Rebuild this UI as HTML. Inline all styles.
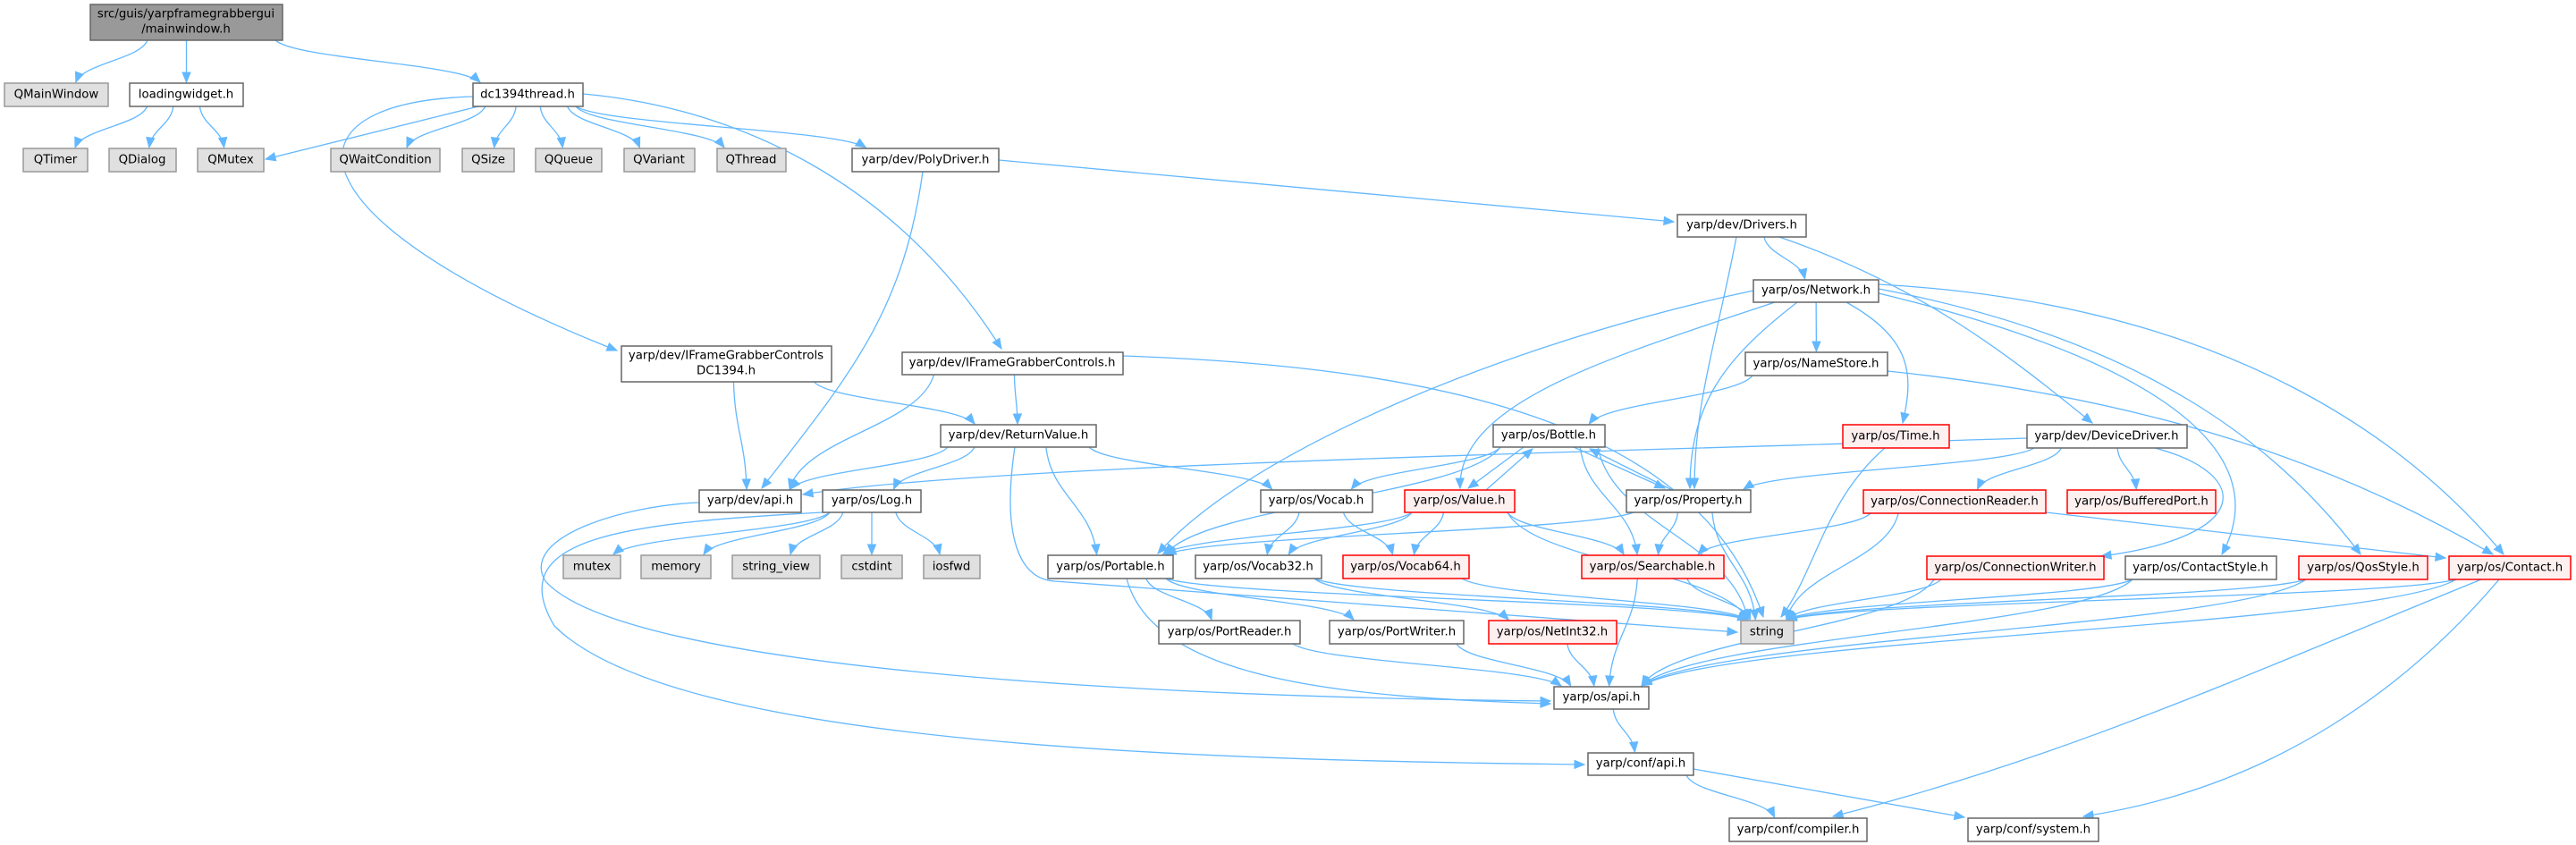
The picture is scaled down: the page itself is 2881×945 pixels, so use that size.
<!DOCTYPE html>
<html><head><meta charset="utf-8"><style>
html,body{margin:0;padding:0;background:#fff;}
svg{display:block;}
text{font-family:"DejaVu Sans","Liberation Sans",sans-serif;font-size:13.3px;fill:#000;text-anchor:middle;dominant-baseline:central;}
.w{fill:#fff;stroke:#666;stroke-width:1.5}
.g{fill:#e0e0e0;stroke:#999;stroke-width:1.5}
.r{fill:#fff0f0;stroke:#ff0000;stroke-width:1.5}
.m{fill:#999;stroke:#666;stroke-width:1.5}
.e{fill:none;stroke:#63b8ff;stroke-width:1.3}
.a{fill:#63b8ff;stroke:#63b8ff}
</style></head><body>
<svg id="s" width="2881" height="945" viewBox="0 0 2881 945" xmlns="http://www.w3.org/2000/svg">
<g id="edges"></g>
<g id="nodes">
<rect class="m" x="101" y="5" width="215" height="40"/><text x="208" y="16">src/guis/yarpframegrabbergui</text><text x="208" y="33">/mainwindow.h</text>
<rect class="g" x="5" y="93" width="116" height="26"/><text x="63" y="106">QMainWindow</text>
<rect class="w" x="145" y="93" width="127" height="26"/><text x="208" y="106">loadingwidget.h</text>
<rect class="w" x="529" y="93" width="123" height="26"/><text x="590" y="106">dc1394thread.h</text>
<rect class="g" x="26" y="166" width="72" height="26"/><text x="62" y="179">QTimer</text>
<rect class="g" x="122" y="166" width="75" height="26"/><text x="159" y="179">QDialog</text>
<rect class="g" x="221" y="166" width="74" height="26"/><text x="258" y="179">QMutex</text>
<rect class="g" x="370" y="166" width="122" height="26"/><text x="431" y="179">QWaitCondition</text>
<rect class="g" x="517" y="166" width="58" height="26"/><text x="546" y="179">QSize</text>
<rect class="g" x="599" y="166" width="74" height="26"/><text x="636" y="179">QQueue</text>
<rect class="g" x="698" y="166" width="79" height="26"/><text x="737" y="179">QVariant</text>
<rect class="g" x="802" y="166" width="77" height="26"/><text x="840" y="179">QThread</text>
<rect class="w" x="953" y="166" width="164" height="26"/><text x="1035" y="179">yarp/dev/PolyDriver.h</text>
<rect class="w" x="695" y="387" width="235" height="40"/><text x="812" y="398">yarp/dev/IFrameGrabberControls</text><text x="812" y="415">DC1394.h</text>
<rect class="w" x="1009" y="394" width="247" height="25"/><text x="1132" y="406">yarp/dev/IFrameGrabberControls.h</text>
<rect class="w" x="1876" y="240" width="144" height="25"/><text x="1948" y="252">yarp/dev/Drivers.h</text>
<rect class="w" x="1961" y="313" width="140" height="25"/><text x="2031" y="325">yarp/os/Network.h</text>
<rect class="w" x="1952" y="394" width="159" height="26"/><text x="2031" y="407">yarp/os/NameStore.h</text>
<rect class="w" x="1670" y="475" width="125" height="25"/><text x="1732" y="487">yarp/os/Bottle.h</text>
<rect class="r" x="2061" y="475" width="119" height="26"/><text x="2120" y="488">yarp/os/Time.h</text>
<rect class="w" x="2267" y="475" width="179" height="26"/><text x="2356" y="488">yarp/dev/DeviceDriver.h</text>
<rect class="w" x="1052" y="475" width="174" height="25"/><text x="1139" y="487">yarp/dev/ReturnValue.h</text>
<rect class="w" x="782" y="548" width="114" height="25"/><text x="839" y="560">yarp/dev/api.h</text>
<rect class="w" x="920" y="548" width="110" height="25"/><text x="975" y="560">yarp/os/Log.h</text>
<rect class="w" x="1410" y="548" width="125" height="25"/><text x="1472" y="560">yarp/os/Vocab.h</text>
<rect class="r" x="1571" y="548" width="123" height="25"/><text x="1632" y="560">yarp/os/Value.h</text>
<rect class="w" x="1819" y="548" width="139" height="25"/><text x="1888" y="560">yarp/os/Property.h</text>
<rect class="r" x="2084" y="548" width="204" height="26"/><text x="2186" y="561">yarp/os/ConnectionReader.h</text>
<rect class="r" x="2312" y="548" width="166" height="26"/><text x="2395" y="561">yarp/os/BufferedPort.h</text>
<rect class="g" x="630" y="621" width="64" height="26"/><text x="662" y="634">mutex</text>
<rect class="g" x="717" y="621" width="78" height="26"/><text x="756" y="634">memory</text>
<rect class="g" x="819" y="621" width="98" height="26"/><text x="868" y="634">string_view</text>
<rect class="g" x="941" y="621" width="68" height="26"/><text x="975" y="634">cstdint</text>
<rect class="g" x="1033" y="621" width="63" height="26"/><text x="1064" y="634">iosfwd</text>
<rect class="w" x="1172" y="621" width="140" height="26"/><text x="1242" y="634">yarp/os/Portable.h</text>
<rect class="w" x="1337" y="621" width="141" height="26"/><text x="1407" y="634">yarp/os/Vocab32.h</text>
<rect class="r" x="1502" y="621" width="141" height="26"/><text x="1572" y="634">yarp/os/Vocab64.h</text>
<rect class="r" x="1769" y="621" width="159" height="26"/><text x="1848" y="634">yarp/os/Searchable.h</text>
<rect class="r" x="2155" y="622" width="198" height="26"/><text x="2254" y="635">yarp/os/ConnectionWriter.h</text>
<rect class="w" x="2377" y="622" width="169" height="26"/><text x="2461" y="635">yarp/os/ContactStyle.h</text>
<rect class="r" x="2571" y="622" width="144" height="26"/><text x="2643" y="635">yarp/os/QosStyle.h</text>
<rect class="r" x="2739" y="622" width="136" height="26"/><text x="2807" y="635">yarp/os/Contact.h</text>
<rect class="w" x="1296" y="694" width="158" height="26"/><text x="1375" y="707">yarp/os/PortReader.h</text>
<rect class="w" x="1487" y="694" width="150" height="26"/><text x="1562" y="707">yarp/os/PortWriter.h</text>
<rect class="r" x="1665" y="694" width="143" height="26"/><text x="1736" y="707">yarp/os/NetInt32.h</text>
<rect class="g" x="1947" y="694" width="59" height="26"/><text x="1976" y="707">string</text>
<rect class="w" x="1738" y="768" width="106" height="25"/><text x="1791" y="780">yarp/os/api.h</text>
<rect class="w" x="1776" y="842" width="118" height="25"/><text x="1835" y="854">yarp/conf/api.h</text>
<rect class="w" x="1934" y="915" width="154" height="26"/><text x="2011" y="928">yarp/conf/compiler.h</text>
<rect class="w" x="2201" y="915" width="146" height="26"/><text x="2274" y="928">yarp/conf/system.h</text>
</g>
</svg>
<script>
var N={MW:[101,5,316,45],QMW:[5,93,121,119],LW:[145,93,272,119],DC:[529,93,652,119],QT:[26,166,98,192],QD:[122,166,197,192],QM:[221,166,295,192],QW:[370,166,492,192],QS:[517,166,575,192],QQ:[599,166,673,192],QV:[698,166,777,192],QTh:[802,166,879,192],PD:[953,166,1117,192],IFD:[695,387,930,427],IF:[1009,394,1256,419],DR:[1876,240,2020,265],NW:[1961,313,2101,338],NS:[1952,394,2111,420],BO:[1670,475,1795,500],TI:[2061,475,2180,501],DD:[2267,475,2446,501],RV:[1052,475,1226,500],DA:[782,548,896,573],LG:[920,548,1030,573],VO:[1410,548,1535,573],VA:[1571,548,1694,573],PR:[1819,548,1958,573],CR:[2084,548,2288,574],BP:[2312,548,2478,574],mu:[630,621,694,647],me:[717,621,795,647],sv:[819,621,917,647],ci:[941,621,1009,647],io:[1033,621,1096,647],PO:[1172,621,1312,647],V32:[1337,621,1478,647],V64:[1502,621,1643,647],SE:[1769,621,1928,647],CW:[2155,622,2353,648],CS:[2377,622,2546,648],QO:[2571,622,2715,648],CO:[2739,622,2875,648],PRD:[1296,694,1454,720],PW:[1487,694,1637,720],NI:[1665,694,1808,720],ST:[1947,694,2006,720],OA:[1738,768,1844,793],CA:[1776,842,1894,867],CC:[1934,915,2088,941],CSY:[2201,915,2347,941]};
var gen=[["MW","QMW"],["MW","LW"],["MW","DC"],["LW","QT"],["LW","QD"],["LW","QM"],["DC","QW"],["DC","QS"],["DC","QQ"],["DC","QV"],["DC","QTh"],["DC","PD"],["IFD","DA"],["IFD","RV"],["IF","DA"],["IF","RV"],["RV","DA"],["RV","LG"],["RV","VO"],["RV","PO"],["LG","mu"],["LG","me"],["LG","sv"],["LG","ci"],["LG","io"],["DR","NW"],["NW","NS"],["NS","BO"],["DD","PR"],["DD","CR"],["DD","BP"],["BO","PO"],["BO","VO"],["BO","SE"],["BO","ST"],["VA","PO"],["VA","V32"],["VA","V64"],["VA","SE"],["VA","ST"],["PR","PO"],["PR","SE"],["PR","ST"],["VO","V32"],["VO","V64"],["V32","ST"],["V32","NI"],["V64","ST"],["SE","ST"],["SE","OA"],["CR","SE"],["CR","ST"],["CW","ST"],["CW","OA"],["CS","ST"],["CS","OA"],["QO","ST"],["QO","OA"],["CO","ST"],["CO","OA"],["PO","PRD"],["PO","PW"],["PO","ST"],["PRD","OA"],["PW","OA"],["NI","OA"],["OA","CA"],["CA","CC"]];
var spec=["M529,108 C300,115 330,250 690,392","M652,105 C820,120 1000,200 1120,390","M1032,192 C1010,350 950,420 852,546","M1117,179 L1872,248","M1256,398 C1600,410 1900,470 1972,690","M1135,500 C1120,600 1140,648 1180,650 L1943,707","M782,562 C700,565 580,600 610,650 C700,750 1300,780 1734,784","M920,573 C700,585 560,600 620,700 C750,830 1300,850 1772,855","M1662,548 L1714,502","M1704,500 L1642,546","M1870,548 L1778,502","M1760,500 L1862,546","M1961,325 C1700,380 1400,500 1295,619","M1985,338 C1800,400 1630,450 1633,546","M2010,338 C1930,400 1890,450 1890,546","M2101,318 C2500,340 2700,500 2800,620","M2101,323 C2400,380 2550,500 2640,620","M2101,328 C2400,400 2550,500 2485,620","M2065,338 C2140,380 2140,420 2128,473","M2111,415 C2450,450 2650,540 2788,620","M1990,265 C2150,320 2250,400 2340,473","M1942,265 C1920,380 1895,450 1895,546","M2267,490 C1800,505 1100,520 898,553","M2410,501 C2520,530 2520,600 2350,622","M2288,573 L2735,624","M2775,648 C2500,760 2300,850 2050,913","M2795,648 C2700,760 2550,880 2330,913","M1894,860 L2197,914","M1260,647 C1290,760 1500,780 1734,787","M2108,501 C2040,560 2030,640 1992,690","M535,119 L297,178"];
var ns="http://www.w3.org/2000/svg",G=document.getElementById("edges");
function arrow(x,y,px,py){var dx=x-px,dy=y-py,l=Math.hypot(dx,dy)||1;dx/=l;dy/=l;var L=11,W=4.5,bx=x-dx*L,by=y-dy*L;var p=document.createElementNS(ns,"polygon");p.setAttribute("class","a");p.setAttribute("points",x+","+y+" "+(bx-dy*W)+","+(by+dx*W)+" "+(bx+dy*W)+","+(by-dx*W));G.appendChild(p);}
function path(d){var p=document.createElementNS(ns,"path");p.setAttribute("class","e");p.setAttribute("d",d);G.appendChild(p);}
function cl(v,a,b){return Math.max(a,Math.min(b,v));}
gen.forEach(function(e){var s=N[e[0]],t=N[e[1]];var scx=(s[0]+s[2])/2,tcx=(t[0]+t[2])/2;var sx=cl(scx+(tcx-scx)*0.3,s[0]+8,s[2]-8),sy=s[3];var tx=cl(tcx+(scx-tcx)*0.15,t[0]+8,t[2]-8),ty=t[1]-1;var dy=ty-sy;var c1x=sx+(tx-sx)*0.1,c1y=sy+dy*0.45,c2x=tx-(tx-sx)*0.1,c2y=ty-dy*0.45;path("M"+sx+","+sy+" C"+c1x+","+c1y+" "+c2x+","+c2y+" "+tx+","+ty);arrow(tx,ty,c2x,c2y);});
spec.forEach(function(d){path(d);var n=d.replace(/[MCL]/g," ").trim().split(/[\s,]+/).map(Number);var k=n.length;arrow(n[k-2],n[k-1],n[k-4],n[k-3]);});
</script>
</body></html>
